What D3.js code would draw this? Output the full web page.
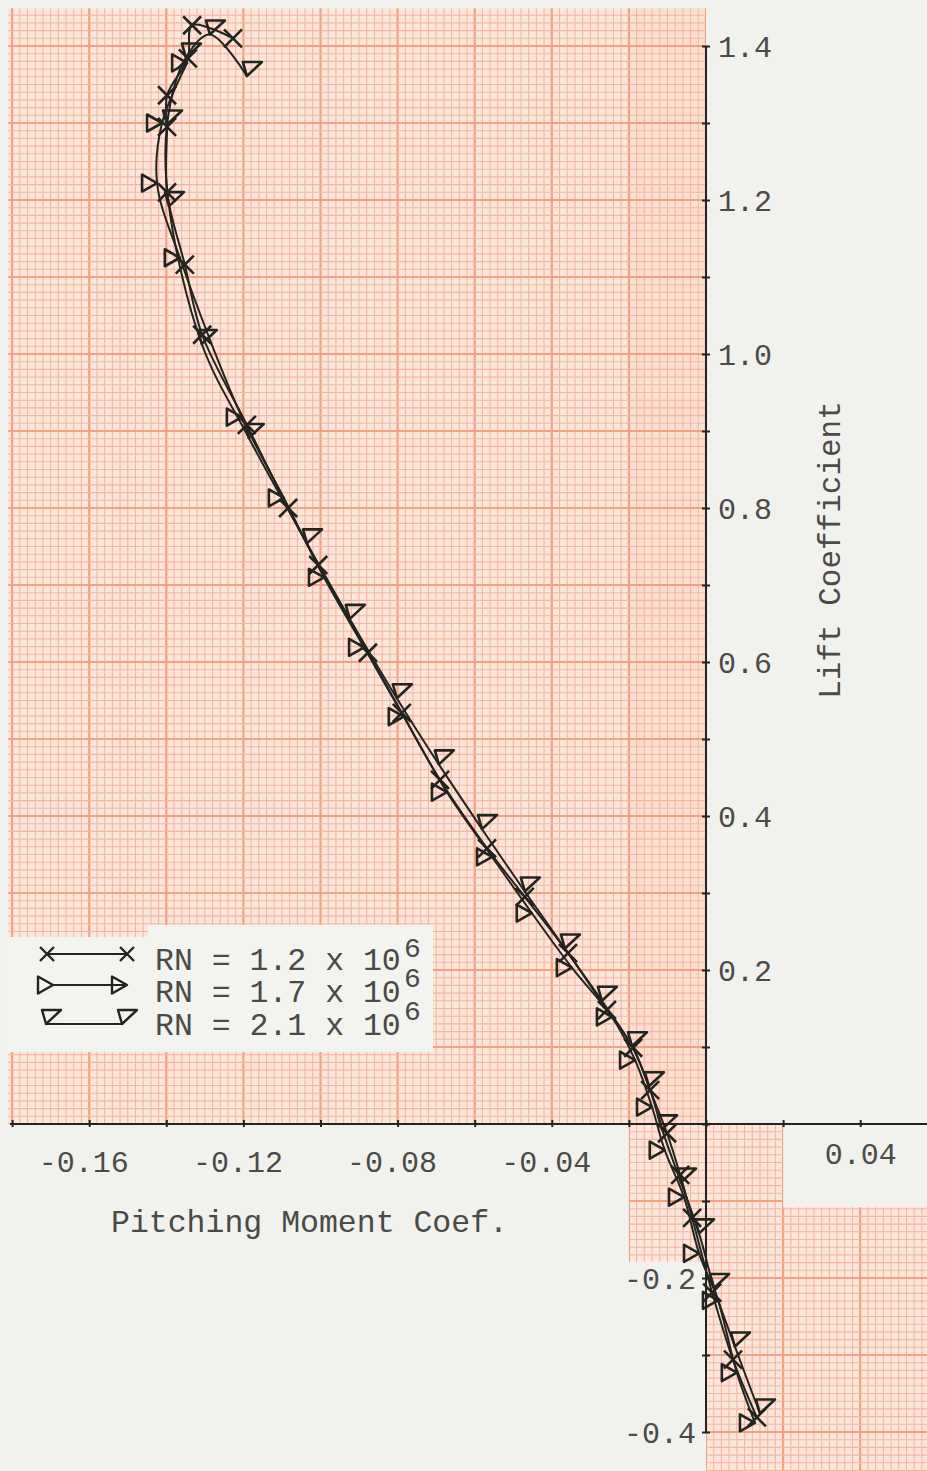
<!DOCTYPE html>
<html>
<head>
<meta charset="utf-8">
<script src="https://cdn.jsdelivr.net/npm/d3@7"></script>
<style>
  body { margin: 0; background: #f1f1ee; }
  svg { display: block; }
</style>
</head>
<body>
<svg width="927" height="1471"></svg>
<script>
// pitching moment coef (x) and lift coefficient (y), ordered low alpha -> high alpha
var rn12Cm = [0.0132, 0.0070, 0.0016, -0.0036, -0.0067, -0.0101, -0.0145, -0.0189, -0.0257, -0.0358, -0.0470, -0.0568, -0.0690, -0.0789, -0.0877, -0.1006, -0.1084, -0.1191, -0.1307, -0.1352, -0.1398, -0.1398, -0.1398, -0.1344, -0.1333, -0.1227];
var rn12Cl = [-0.381, -0.306, -0.219, -0.122, -0.066, -0.012, 0.044, 0.099, 0.148, 0.222, 0.295, 0.358, 0.447, 0.534, 0.612, 0.726, 0.800, 0.908, 1.025, 1.116, 1.210, 1.295, 1.336, 1.384, 1.427, 1.410];

var rn17Cm = [0.0127, 0.0080, 0.0031, -0.0018, -0.0057, -0.0107, -0.0140, -0.0184, -0.0244, -0.0348, -0.0452, -0.0555, -0.0672, -0.0784, -0.0887, -0.0991, -0.1095, -0.1204, -0.1365, -0.1424, -0.1411, -0.1346];
var rn17Cl = [-0.388, -0.323, -0.229, -0.168, -0.095, -0.034, 0.022, 0.083, 0.139, 0.203, 0.274, 0.347, 0.431, 0.529, 0.619, 0.710, 0.813, 0.918, 1.125, 1.222, 1.300, 1.378];

var rn21Cm = [0.0140, 0.0075, 0.0021, -0.0018, -0.0065, -0.0114, -0.0148, -0.0192, -0.0270, -0.0366, -0.0470, -0.0581, -0.0693, -0.0802, -0.0924, -0.1035, -0.1186, -0.1308, -0.1393, -0.1398, -0.1349, -0.1287, -0.1191];
var rn21Cl = [-0.376, -0.289, -0.213, -0.142, -0.076, -0.007, 0.049, 0.101, 0.160, 0.228, 0.302, 0.383, 0.467, 0.553, 0.656, 0.754, 0.891, 1.013, 1.192, 1.298, 1.385, 1.415, 1.361];

var xTicks = [-0.18, -0.16, -0.14, -0.12, -0.10, -0.08, -0.06, -0.04, -0.02, 0, 0.02, 0.04];
var xLabels = [-0.16, -0.12, -0.08, -0.04, 0.04];
var yTicks = [-0.4, -0.3, -0.2, -0.1, 0, 0.1, 0.2, 0.3, 0.4, 0.5, 0.6, 0.7, 0.8, 0.9, 1.0, 1.1, 1.2, 1.3, 1.4];
var yLabels = [1.4, 1.2, 1.0, 0.8, 0.6, 0.4, 0.2, -0.2, -0.4];
var legendText = ["RN = 1.2 x 10", "RN = 1.7 x 10", "RN = 2.1 x 10"];

var svg = d3.select("svg"),
    width = +svg.attr("width"),
    height = +svg.attr("height");

var ink = "#24241f",
    textCol = "#4a4a46",
    font = "'Liberation Mono', 'DejaVu Sans Mono', monospace";

var x = d3.scaleLinear().domain([-0.18, 0.06]).range([706 - 0.18 * 3855, 706 + 0.06 * 3855]);
var y = d3.scaleLinear().domain([-0.45, 1.45]).range([1124 + 0.45 * 770, 1124 - 1.45 * 770]);

// graph paper pieces (what's left on the scan)
var paper = [
  [-0.181, 0, 0, 1.449],
  [-0.02, 0, -0.179, 0],
  [0, 0.02, -0.46, 0],
  [0.02, 0.062, -0.46, -0.108]
];

var clip = svg.append("defs").append("clipPath").attr("id", "paper");
clip.selectAll("rect")
    .data(paper)
  .enter().append("rect")
    .attr("x", function(d) { return x(d[0]); })
    .attr("y", function(d) { return y(d[3]); })
    .attr("width", function(d) { return x(d[1]) - x(d[0]); })
    .attr("height", function(d) { return y(d[2]) - y(d[3]); });

var grid = svg.append("g").attr("clip-path", "url(#paper)");

grid.append("rect")
    .attr("width", width).attr("height", height)
    .attr("fill", "#fce6dc");

// slightly darker column next to the axis
grid.append("rect")
    .attr("x", x(-0.02)).attr("y", 0)
    .attr("width", x(0) - x(-0.02)).attr("height", y(0))
    .attr("fill", "#f08a68").attr("opacity", 0.07);

var vi = d3.range(-91, 32),
    hi = d3.range(-46, 146);

grid.selectAll("line.v")
    .data(vi)
  .enter().append("line")
    .attr("class", "v")
    .attr("x1", function(i) { return x(i * 0.002); })
    .attr("x2", function(i) { return x(i * 0.002); })
    .attr("y1", 0).attr("y2", height)
    .attr("stroke", function(i) { return i % 10 == 0 ? "#f2a181" : "#f5b69e"; })
    .attr("stroke-width", function(i) { return i % 10 == 0 ? 2.2 : 1.1; });

grid.selectAll("line.h")
    .data(hi)
  .enter().append("line")
    .attr("class", "h")
    .attr("y1", function(i) { return y(i * 0.01); })
    .attr("y2", function(i) { return y(i * 0.01); })
    .attr("x1", 0).attr("x2", width)
    .attr("stroke", function(i) { return i % 10 == 0 ? "#f2a181" : "#f5b69e"; })
    .attr("stroke-width", function(i) { return i % 10 == 0 ? 2.2 : 1.1; });

// legend box (white patch over the paper)
svg.append("rect").attr("x", 8).attr("y", 937).attr("width", 425).attr("height", 115).attr("fill", "#f3f3f0");
svg.append("rect").attr("x", 148).attr("y", 925).attr("width", 285).attr("height", 14).attr("fill", "#f3f3f0");

// axes
var fmt2 = function(d) { return (d < 0 ? "-" : "") + Math.abs(d).toFixed(2); };
var fmt1 = function(d) { return (d < 0 ? "-" : "") + Math.abs(d).toFixed(1); };

var xAxis = svg.append("g")
    .attr("transform", "translate(0," + y(0) + ")")
    .call(d3.axisBottom(x)
      .tickValues(xTicks)
      .tickSize(4)
      .tickFormat(function(d) { return xLabels.indexOf(d) >= 0 ? fmt2(d) : ""; }));

xAxis.select(".domain").remove();
xAxis.append("line").attr("x1", 10).attr("x2", width).attr("stroke", ink).attr("stroke-width", 2);
xAxis.selectAll(".tick line").attr("y1", -4).attr("y2", 3).attr("stroke", ink).attr("stroke-width", 2);
xAxis.selectAll(".tick text")
    .attr("x", function(d) { return d < 0 ? -6 : 0; })
    .attr("y", function(d) { return d > 0 ? 40 : 48; })
    .attr("dy", 0)
    .attr("fill", textCol)
    .style("font-family", font)
    .style("font-size", "30px");

var yAxis = svg.append("g")
    .attr("transform", "translate(" + x(0) + ",0)")
    .call(d3.axisRight(y)
      .tickValues(yTicks)
      .tickSize(4)
      .tickFormat(function(d) { return yLabels.indexOf(d) >= 0 ? fmt1(d) : ""; }));

yAxis.select(".domain").remove();
yAxis.append("line").attr("y1", y(1.4)).attr("y2", y(-0.4)).attr("stroke", ink).attr("stroke-width", 2);
yAxis.selectAll(".tick line").attr("x1", -4).attr("x2", 4).attr("stroke", ink).attr("stroke-width", 2);
yAxis.selectAll(".tick text")
    .attr("x", function(d) { return d < 0 ? -10 : 12; })
    .attr("text-anchor", function(d) { return d < 0 ? "end" : "start"; })
    .attr("dy", "0.35em")
    .attr("fill", textCol)
    .style("font-family", font)
    .style("font-size", "30px");

svg.append("text")
    .attr("x", 111).attr("y", 1232)
    .attr("fill", textCol)
    .style("font-family", font).style("font-size", "31.5px")
    .text("Pitching Moment Coef.");

svg.append("text")
    .attr("transform", "translate(840,550) rotate(-90)")
    .attr("text-anchor", "middle")
    .attr("fill", textCol)
    .style("font-family", font).style("font-size", "31px")
    .text("Lift Coefficient");

// curves + markers
function pts(cm, cl) { return cm.map(function(d, i) { return [d, cl[i]]; }); }

var series = [
  { data: pts(rn12Cm, rn12Cl), mark: "M-9,-9L9,9M-9,9L9,-9" },
  { data: pts(rn17Cm, rn17Cl), mark: "M-15,-8.5L-15,8.5L0,0Z" },
  { data: pts(rn21Cm, rn21Cl), mark: "M-4,-14L15,-14L0,0Z" }
];

var line = d3.line()
    .x(function(d) { return x(d[0]); })
    .y(function(d) { return y(d[1]); })
    .curve(d3.curveCatmullRom.alpha(0.5));

var plot = svg.append("g");

series.forEach(function(s) {
  plot.append("path")
      .attr("d", line(s.data))
      .attr("fill", "none")
      .attr("stroke", ink)
      .attr("stroke-width", 2);

  plot.selectAll(null)
      .data(s.data)
    .enter().append("path")
      .attr("transform", function(d) { return "translate(" + x(d[0]) + "," + y(d[1]) + ")"; })
      .attr("d", s.mark)
      .attr("fill", "none")
      .attr("stroke", ink)
      .attr("stroke-width", 2.6)
      .attr("stroke-linejoin", "round");
});

// legend
var legRows = [
  { y: 954, ends: [47, 127], mark: "M-7,-7L7,7M-7,7L7,-7" },
  { y: 985, ends: [53, 127], mark: series[1].mark },
  { y: 1024, ends: [46, 122], mark: series[2].mark }
];

var leg = svg.append("g");
legRows.forEach(function(r, i) {
  leg.append("line")
      .attr("x1", r.ends[0]).attr("x2", r.ends[1])
      .attr("y1", r.y).attr("y2", r.y)
      .attr("stroke", ink).attr("stroke-width", 2);
  r.ends.forEach(function(ex) {
    leg.append("path")
        .attr("transform", "translate(" + ex + "," + r.y + ")")
        .attr("d", r.mark)
        .attr("fill", "none").attr("stroke", ink)
        .attr("stroke-width", 2.4).attr("stroke-linejoin", "round");
  });
  leg.append("text")
      .attr("x", 155).attr("y", [970, 1002, 1035][i])
      .attr("fill", textCol)
      .style("font-family", font).style("font-size", "31.5px")
      .text(legendText[i]);
  leg.append("text")
      .attr("x", 404).attr("y", [957, 987, 1020][i])
      .attr("fill", textCol)
      .style("font-family", font).style("font-size", "28px")
      .text("6");
});
</script>
</body>
</html>
